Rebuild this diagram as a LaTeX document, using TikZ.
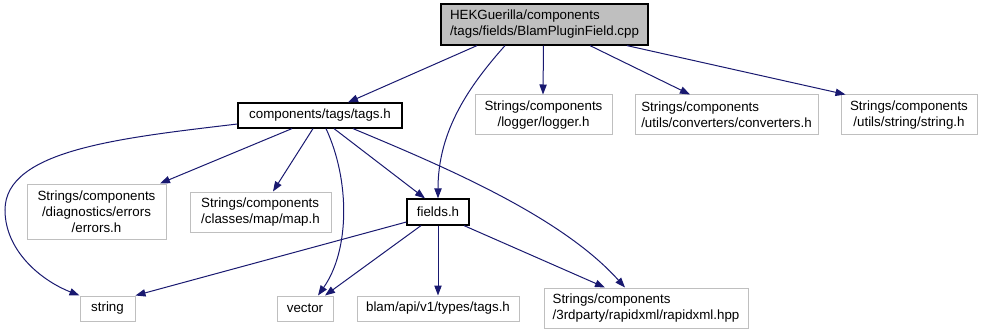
\documentclass[tikz,border=0pt]{standalone}
\usepackage{fontspec}
\setmainfont{Liberation Sans}
\usepackage{tikz}
\usetikzlibrary{arrows.meta, calc}
\definecolor{edgeblue}{RGB}{25,25,112}
\definecolor{extgray}{RGB}{191,191,191}
\newlength{\px}
\setlength{\px}{0.75pt}

\begin{document}
\begin{tikzpicture}[
  x=0.75pt, y=-0.75pt,
  file/.style={draw=black, line width=0.9pt, fill=white, font=\fontsize{10}{12}\selectfont, inner sep=0pt, align=left},
  ext/.style={file, draw=extgray, line width=0.75pt},
  arr/.style={-{Triangle[length=7.5pt, width=5.5pt]}, draw=edgeblue, fill=none, line width=0.75pt}
]
\useasboundingbox (0,0) rectangle (993,335);

% --- Source file ---
\node[file, fill=extgray, minimum width=207\px, minimum height=41\px] (root) at (544.5,24.5) {HEKGuerilla/components\\/tags/fields/BlamPluginField.cpp};

% --- Second row ---
\node[file, minimum width=164\px, minimum height=25\px] (tagsh) at (320,115.5) {components/tags/tags.h};
\node[ext, align=center, minimum width=137\px, minimum height=40\px] (logger) at (543.5,115) {Strings/components\\/logger/logger.h};
\node[ext, minimum width=183\px, minimum height=40\px] (converters) at (726.5,115) {Strings/components\\/utils/converters/converters.h};
\node[ext, align=center, minimum width=136\px, minimum height=40\px] (stringh) at (909,115) {Strings/components\\/utils/string/string.h};

% --- Third row ---
\node[ext, align=center, minimum width=139\px, minimum height=55\px] (errors) at (96.5,211.5) {Strings/components\\/diagnostics/errors\\/errors.h};
\node[ext, minimum width=141\px, minimum height=40\px] (maph) at (260.5,212) {Strings/components\\/classes/map/map.h};
\node[file, minimum width=62\px, minimum height=26\px] (fields) at (438,212) {fields.h};

% --- Bottom row ---
\node[ext, minimum width=55\px, minimum height=25\px] (str) at (107.5,308.5) {string};
\node[ext, minimum width=56\px, minimum height=25\px] (vector) at (305,308.5) {vector};
\node[ext, minimum width=162\px, minimum height=25\px] (blam) at (438,308.5) {blam/api/v1/types/tags.h};
\node[ext, minimum width=204\px, minimum height=40\px] (rapidxml) at (646,308) {Strings/components\\/3rdparty/rapidxml/rapidxml.hpp};

% --- Includes of the source file ---
\draw[arr] ([xshift=-67.5\px]root.south) -- ([xshift=28\px]tagsh.north);
\draw[arr] ([xshift=-39.5\px]root.south) .. controls (470,85) and (438,130) .. (fields.north);
\draw[arr] ([xshift=-1\px]root.south) -- ([xshift=-0.5\px]logger.north);
\draw[arr] ([xshift=45.5\px]root.south) -- ([xshift=-36.5\px]converters.north);
\draw[arr] ([xshift=82.5\px]root.south) -- ([xshift=5\px]stringh.north west);

% --- Includes of tags.h ---
\draw[arr] ([yshift=-8.5\px]tagsh.west) .. controls (120,138) and (5,150) .. (5,210) .. controls (5,250) and (40,280) .. (str.north west);
\draw[arr] ([xshift=-28\px]tagsh.south) -- ([xshift=63.5\px]errors.north);
\draw[arr] ([xshift=-7\px]tagsh.south) -- ([xshift=12.5\px]maph.north);
\draw[arr] ([xshift=6\px]tagsh.south) .. controls (350,180) and (350,250) .. ([xshift=13\px]vector.north);
\draw[arr] ([xshift=14\px]tagsh.south) -- ([xshift=-13\px]fields.north);
\draw[arr] ([xshift=33\px]tagsh.south) .. controls (440,165) and (560,215) .. ([xshift=-21\px]rapidxml.north);

% --- Includes of fields.h ---
\draw[arr] ([yshift=-10\px]fields.west) -- (str.north east);
\draw[arr] ([xshift=-17\px]fields.south) -- ([xshift=20\px]vector.north);
\draw[arr] (fields.south) -- (blam.north);
\draw[arr] ([xshift=26\px]fields.south) -- ([xshift=-41\px]rapidxml.north);

\end{tikzpicture}
\end{document}
